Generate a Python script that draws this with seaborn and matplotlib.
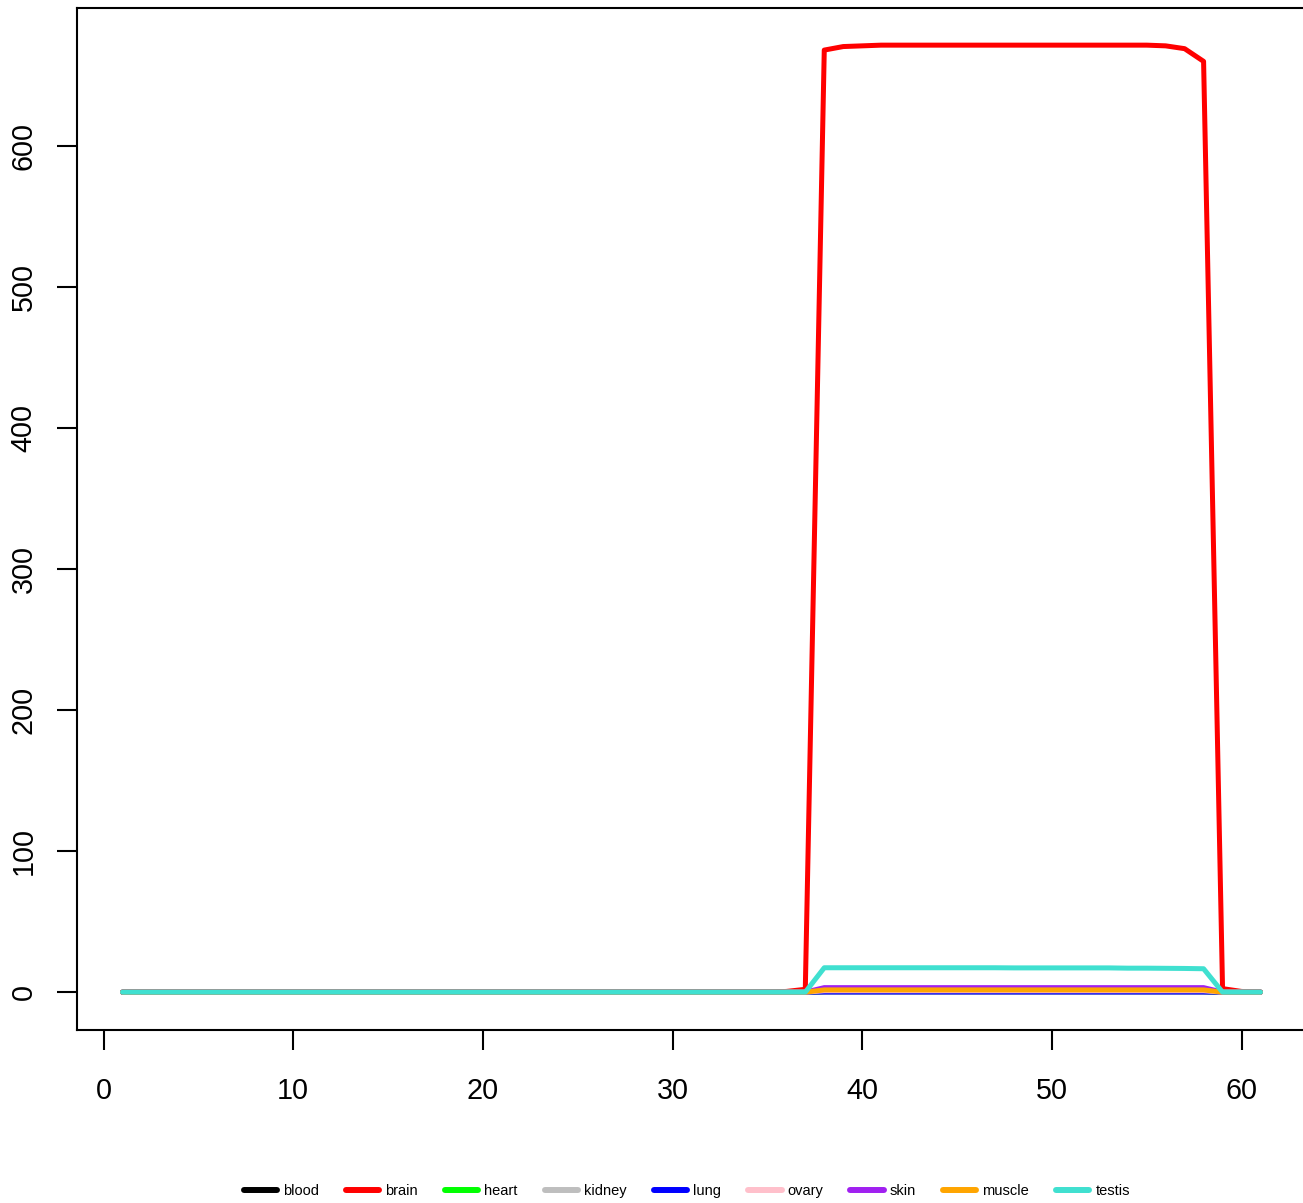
import pandas as pd
import matplotlib
matplotlib.use("Agg")
import matplotlib.pyplot as plt
from matplotlib.lines import Line2D
import seaborn as sns

# values, positions 1..61
positions = list(range(1, 62))
tissues = ["blood", "brain", "heart", "kidney", "lung", "ovary", "skin", "muscle", "testis"]
colors = ["#000000", "#FF0000", "#00FF00", "#BEBEBE", "#0000FF",
          "#FFC0CB", "#A020F0", "#FFA500", "#40E0D0"]

blood = [0.0] * 37 + [0.3] * 21 + [0.0] * 3
brain = ([0.0] * 35 + [0.5, 2.0, 668.0, 670.5, 671.0] + [671.5] * 15
         + [671.0, 669.0, 660.0, 2.5, 0.5, 0.0])
heart = [0.0] * 37 + [0.4] * 21 + [0.0] * 3
kidney = [0.0] * 37 + [0.6] * 21 + [0.0] * 3
lung = [0.0] * 37 + [0.1] * 21 + [0.0] * 3
ovary = [0.0] * 37 + [1.0] * 21 + [0.0] * 3
skin = [0.0] * 37 + [3.2] * 21 + [0.0] * 3
muscle = [0.0] * 37 + [1.6] * 21 + [0.0] * 3
testis = [0.0] * 37 + [17.3] * 10 + [17.2] * 6 + [17.0, 17.0, 16.9, 16.8, 16.6] + [0.0] * 3

series = [blood, brain, heart, kidney, lung, ovary, skin, muscle, testis]

# long format for seaborn
df = pd.DataFrame({
    "position": positions * len(tissues),
    "value": [v for s in series for v in s],
    "tissue": [t for t in tissues for _ in positions],
})
palette = dict(zip(tissues, colors))

sns.set_style("ticks")
plt.rcParams["font.family"] = ["Liberation Sans", "DejaVu Sans"]

fig = plt.figure(figsize=(13.03, 12.03), dpi=100)
ax = fig.add_axes([77 / 1303, 1 - 1030 / 1203, (1306 - 77) / 1303, (1030 - 8) / 1203])

sns.lineplot(data=df, x="position", y="value", hue="tissue", hue_order=tissues,
             palette=palette, linewidth=3.6, solid_capstyle="round",
             solid_joinstyle="round", legend=False, ax=ax)

ax.set_xlim(-1.4, 63.4)
ax.set_ylim(-26.84, 697.84)
ax.set_xticks(range(0, 61, 10))
ax.set_yticks(range(0, 601, 100))
ax.set_xlabel("")
ax.set_ylabel("")

for side in ["left", "right", "top", "bottom"]:
    ax.spines[side].set_visible(True)
    ax.spines[side].set_linewidth(1.5)
    ax.spines[side].set_color("black")

ax.tick_params(axis="both", length=14.4, width=1.5, labelsize=20.7,
               color="black", labelcolor="black")
ax.tick_params(axis="x", pad=19.5)
ax.tick_params(axis="y", pad=14, labelrotation=90)
for lab in ax.get_yticklabels():
    lab.set_va("center")

handles = [Line2D([], [], color=c, lw=4.3, solid_capstyle="round") for c in colors]
fig.legend(handles, tissues, loc="center", bbox_to_anchor=(0.527, 0.010), ncol=9,
           frameon=False, fontsize=10.5, handlelength=2.3, handletextpad=0.4,
           columnspacing=1.85, borderaxespad=0, labelcolor="black")

fig.savefig("out.png", dpi=100)
